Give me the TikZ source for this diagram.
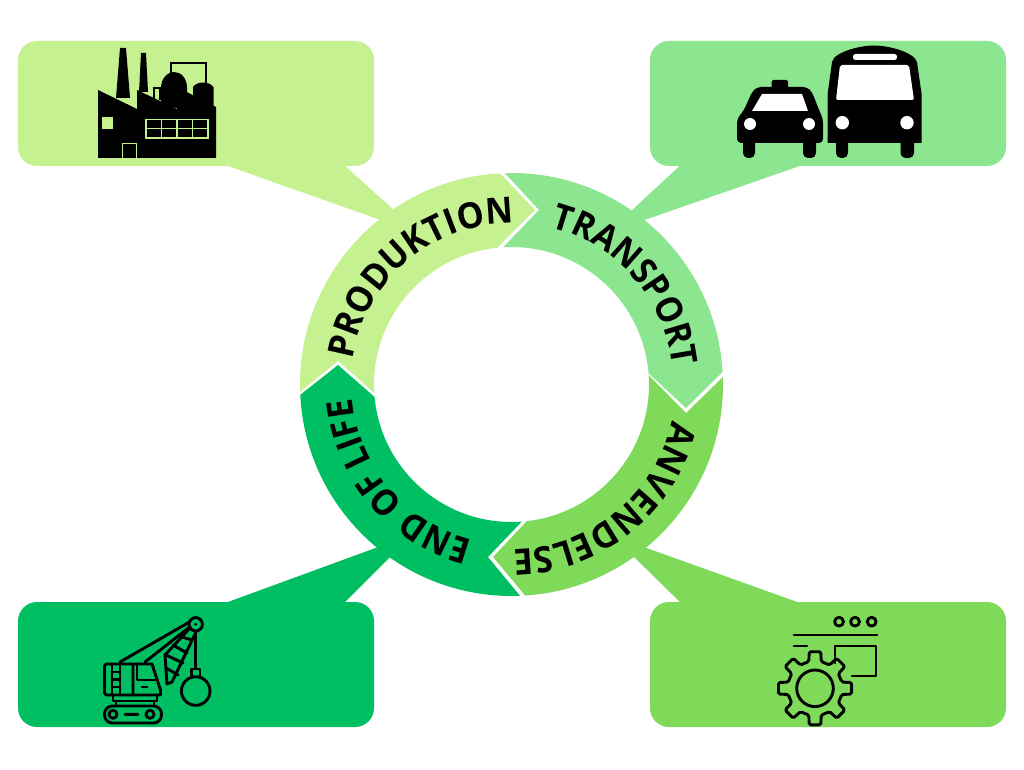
\documentclass[tikz,border=0pt]{standalone}
\usepackage{fontspec}
\setmainfont{Open Sans}
\newfontfamily\ringfontA[FakeStretch=0.945]{Open Sans}
\newfontfamily\ringfontB[FakeStretch=0.92]{Open Sans}
\usetikzlibrary{decorations.text}
\definecolor{cprod}{HTML}{C6F191}
\definecolor{ctrans}{HTML}{8CE68F}
\definecolor{canv}{HTML}{7FDA5A}
\definecolor{cend}{HTML}{00BE62}
\tikzset{
  callout/.style={fill=#1,rounded corners=19pt},
  tailshape/.style={fill=#1},
  seg/.style={fill=#1},
  ringlabelA/.style={decorate,decoration={text along path,text align=left,
     text={|\ringfontA\fontsize{36}{36}\selectfont\bfseries|#1}}},
  ringlabelB/.style={decorate,decoration={text along path,text align=left,
     text={|\ringfontB\fontsize{36}{36}\selectfont\bfseries|#1}}},
  icon/.style={draw=black,line width=2.9pt,line cap=round,line join=round},
}
\newcommand{\Ro}{211.5}
\newcommand{\Ri}{137.5}
\begin{document}
\begin{tikzpicture}[x=1pt,y=1pt]
\useasboundingbox (0,0) rectangle (1024,769);
\fill[white] (0,0) rectangle (1024,769);
% everything in reference pixels (y downward) in this scope
\begin{scope}[shift={(0,769)},yscale=-1]
  \fill[tailshape=cprod] (211,160) -- (382,220.5) -- (396,212) -- (338.6,160) -- cycle;
  \fill[tailshape=ctrans] (817,160) -- (643,220.5) -- (630,212) -- (686,160) -- cycle;
  \fill[tailshape=cend] (211.5,608) -- (381,546) -- (394,553) -- (339,608) -- cycle;
  \fill[tailshape=canv] (814,608) -- (641,546) -- (631,554) -- (686,608) -- cycle;
  \fill[callout=cprod] (18,41) rectangle (374,166);
  \fill[callout=ctrans] (650,41) rectangle (1006,166);
  \fill[callout=cend] (18,602) rectangle (374,727);
  \fill[callout=canv] (650,602) rectangle (1006,727);

  % factory
  \fill[black] (120,48) -- (126,48) -- (130,98) -- (116,98) -- cycle;
  \fill[black] (141,53) -- (146,53) -- (148,92) -- (139,92) -- cycle;
  \draw[black,line width=2.6pt] (171,84) -- (171,63) -- (206,63) -- (206,86);
  \draw[black,line width=1.8pt] (154,100) -- (154,88) -- (160,88) -- (160,100);
  \fill[black] (161,105) -- (161,88) .. controls (161,78) and (168,72) .. (174,72)
     .. controls (181,72) and (187,78) .. (187,88) -- (187,110) -- cycle;
  \fill[black] (193,105) -- (193,87) .. controls (197,81) and (209,81) .. (213.5,87) -- (213.5,108) -- cycle;
  \fill[black] (98,90) -- (137,109) -- (137,90) -- (177,109) -- (177,87) -- (216,107)
     -- (216,158) -- (98,158) -- cycle;
  \fill[cprod] (102,117) rectangle (113,129);
  \draw[cprod,line width=1.6pt] (146,119.5) rectangle (208,138);
  \draw[cprod,line width=1.4pt] (146,128.5) -- (208,128.5)
     (161.5,119.5) -- (161.5,138) (177,119.5) -- (177,138) (192.5,119.5) -- (192.5,138);
  \draw[cprod,line width=1.6pt] (122.5,158) -- (122.5,143.5) -- (136.5,143.5) -- (136.5,158);

  % bus
  \fill[black] (827.5,143) -- (827.5,95) -- (832,62)
     .. controls (834,52) and (860,45.5) .. (874,45.5)
     .. controls (888,45.5) and (914,52) .. (917,62)
     -- (921.7,95) -- (921.7,143) -- cycle;
  \fill[black,rounded corners=5pt] (836,135) rectangle (848,158);
  \fill[black,rounded corners=5pt] (900.5,135) rectangle (914,158);
  \fill[white,rounded corners=2pt] (840,65) -- (909,65) -- (914,100) -- (836,100) -- cycle;
  \fill[white,rounded corners=2.5pt] (853,54) rectangle (897,60);
  \fill[white] (842.3,122.7) circle[radius=6.7];
  \fill[white] (907,122.7) circle[radius=6.7];
  % taxi
  \fill[black,rounded corners=2pt] (771.7,80) rectangle (788,92);
  \fill[black,rounded corners=4pt] (737,143) -- (737,119) -- (744,110) -- (752,92) -- (757,87)
     -- (807,87) -- (812,92) -- (819,110) -- (823,119) -- (823,143) -- cycle;
  \fill[black,rounded corners=5pt] (743,135) rectangle (755,158);
  \fill[black,rounded corners=5pt] (803,135) rectangle (816,158);
  \fill[white] (762,94) -- (802,94) -- (808,111) -- (752,111) -- cycle;
  \fill[white] (750,124) circle[radius=6];
  \fill[white] (809,124) circle[radius=6];

  % crane
  \draw[icon] (195.7,624.3) circle[radius=6.7];
  \fill[black] (195.7,624.3) circle[radius=1.6];
  \draw[icon] (120,662) -- (190,621.7) (145,662) -- (190,626.7);
  \draw[icon] (167,684) -- (165,655) -- (190,628) (167,684) -- (172,682) -- (196,632);
  \draw[icon] (166,668) -- (178,675) (166,655) -- (183,663) (173,645) -- (187,653) (182,637) -- (192,640);
  \draw[icon] (195.7,631) -- (195.7,668);
  \draw[icon] (191.5,677) -- (191.5,669) -- (200,669) -- (200,677);
  \draw[icon] (195.7,691) circle[radius=14.3];
  \draw[icon,rounded corners=2.5pt] (133,695) -- (104.5,695) -- (104.5,664) -- (133,664);
  \draw[icon] (133,664) -- (152,664) -- (160.5,690) -- (160.5,695) -- (133,695) -- cycle;
  \draw[icon] (112,664) -- (112,695) (120,664) -- (120,695)
     (112,672) -- (120,672) (112,679.5) -- (120,679.5) (112,687) -- (120,687);
  \draw[icon] (137,664) -- (137,680) -- (157,680) (142,687) -- (147,687);
  \draw[icon] (113,695) -- (113,701) -- (157,701) -- (157,695) (116,701) -- (116,706) (154,701) -- (154,706);
  \draw[icon,rounded corners=8pt] (104.5,706) rectangle (161.5,723);
  \draw[icon] (113,714.3) circle[radius=4] (150,714.3) circle[radius=4] (125,714.3) -- (138,714.3);

  % gear and window
  \draw[icon] (839,621.7) circle[radius=4.4] (855,621.7) circle[radius=4.4] (871.7,621.7) circle[radius=4.4];
  \draw[icon] (794,635) -- (877,635) (794,646) -- (807,646);
  \draw[icon] (835,663) -- (835,646) -- (876,646) -- (876,676) -- (852,676);
  \draw[icon] (815,688.3) circle[radius=18.3];
  \draw[icon,rounded corners=1.5pt,shift={(815,688.3)}] (-13:27.5)
    \foreach \a in {0,45,...,315}{ -- (\a-13:27.5) -- (\a-9:37) -- (\a+9:37) -- (\a+13:27.5) } -- cycle;
\end{scope}

% ring, centred at pixel (511.5,384.5), y upward
\begin{scope}[shift={(511.5,384.5)}]
  \fill[seg=cprod] (182:\Ro) arc[start angle=182,end angle=93.1,radius=\Ro]
     -- (23.5,174.5) -- (96:\Ri) arc[start angle=96,end angle=183.5,radius=\Ri]
     -- (-173.5,23.5) -- cycle;
  \fill[seg=ctrans] (91.8:\Ro) arc[start angle=91.8,end angle=3.4,radius=\Ro]
     -- (174.5,-23.5) -- (4.7:\Ri) arc[start angle=4.7,end angle=93.5,radius=\Ri]
     -- (27.5,174.5) -- cycle;
  \fill[seg=canv] (2:\Ro) arc[start angle=2,end angle=-86.3,radius=\Ro]
     -- (-18.5,-172.5) -- (-83.6:\Ri) arc[start angle=-83.6,end angle=3.9,radius=\Ri]
     -- (174.5,-28.5) -- cycle;
  \fill[seg=cend] (-87.7:\Ro) arc[start angle=-87.7,end angle=-177.2,radius=\Ro]
     -- (-173.5,19.5) -- (185.2:\Ri) arc[start angle=185.2,end angle=274.3,radius=\Ri]
     -- (-23.5,-172.5) -- cycle;
  \path[ringlabelA=PRODUKTION] (171:161) arc[start angle=171,end angle=80,radius=161];
  \path[ringlabelB=TRANSPORT] (76:162) arc[start angle=76,end angle=-5,radius=162];
  \path[ringlabelA=ANVENDELSE] (-12.5:165) arc[start angle=-12.5,end angle=-100,radius=165];
  \path[ringlabelB=END OF LIFE] (256:160) arc[start angle=256,end angle=175,radius=160];
\end{scope}
\end{tikzpicture}
\end{document}
